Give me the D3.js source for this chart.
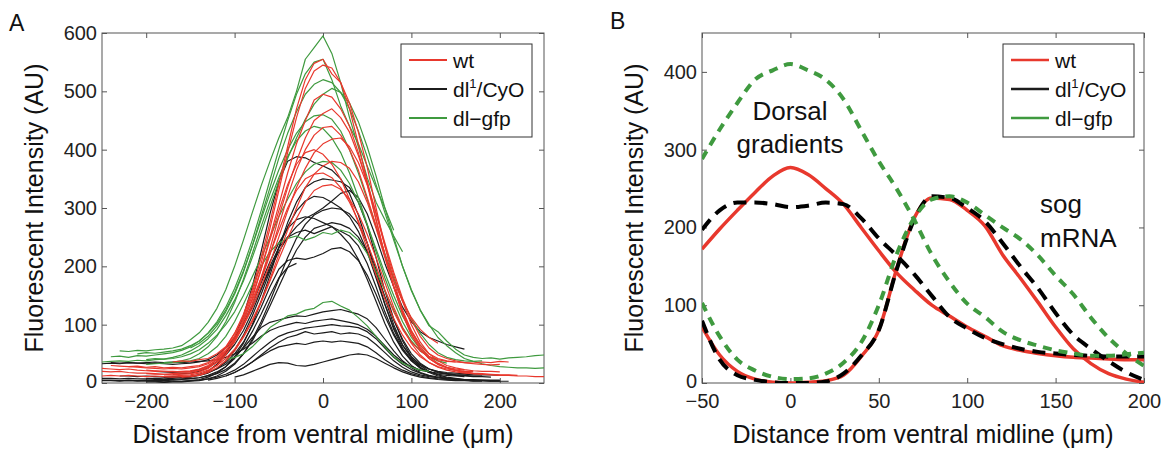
<!DOCTYPE html>
<html>
<head>
<meta charset="utf-8">
<script src="https://cdn.jsdelivr.net/npm/d3@7"></script>
<style>
  body { margin: 0; background: #fff; }
  svg { display: block; font-family: "Liberation Sans", Arial, sans-serif; }
</style>
</head>
<body>
<svg id="fig" width="1168" height="450"></svg>
<script>
/* DATA */
// panel A: individual embryo profiles, sampled every 10 um from a start position
const stepA = 10;

const wtStart = [-250, -170, -250, -200, -250, -220, -200, -180, -240, -160];
const wtY = [
  [20,19,20,18,17,17,16,15,16,17, 18,22,28,40,60,85,118,160,215,275, 340,405,470,520,548,555,530,515,470,410, 345,280,218,165,120,84,58,42,32,26, 21,18,16,15,14,13,13,12,12,11,11],
  [36,38,37,40,42,50,62,85,115,155, 205,265,330,395,455,505,535,545,540,515, 480,430,370,300,235,175,125,90,65,50, 42,38,36,35,34,36,35,37,36],
  [12,13,12,13,12,11,12,11,10,11, 12,14,20,30,48,72,105,145,195,250, 305,360,410,450,485,495,490,470,440,395, 340,280,220,165,118,82,58,42,32,27, 24,22],
  [22,21,20,20,19,20,22,27,35,50, 70,98,135,180,230,285,335,380,420,450, 462,470,455,430,390,345,290,235,185,140, 100,70,50,38,30,26,23,21,20,20, 19],
  [25,24,23,24,22,21,20,20,19,20, 21,24,30,40,55,75,100,135,175,220, 270,320,365,400,425,438,440,425,400,365, 318,270,220,175,140,112,92,78,68],
  [28,27,26,25,24,25,24,26,28,33, 42,55,74,98,128,165,205,250,295,335, 368,395,410,418,420,405,378,340,292,240, 190,145,108,80,60,48,42,38,35,33, 32,31,32],
  [16,15,15,14,15,16,19,25,36,54, 78,110,150,195,245,295,340,375,395,400, 392,375,350,315,275,230,185,145,110,82, 60,45,35,28,24,22,20,20],
  [12,12,13,14,17,22,30,42,58,80, 108,140,178,220,262,300,335,358,372,380, 378,368,345,310,265,215,165,122,88,62, 45,34,27,22,19,17,16,15,14,14, 13],
  [30,29,28,29,27,28,26,27,26,28, 30,35,45,60,80,108,142,180,222,262, 300,330,350,358,360,352,335,310,278,240, 200,160,122,92,70,55,45,40,37,36],
  [10,11,13,18,26,38,55,78,105,138, 175,212,248,282,310,330,338,340,332,315, 290,255,215,172,130,95,68,48,35,27, 22,19,17,16,15]
];

const dlStart = [-200, -250, -240, -230, -200, -170, -250, -190, -250, -180, -140, -250, -170, -110, -100, -130];
const dlY = [
  [8,8,7,8,9,10,14,20,32,50, 78,115,165,225,290,345,380,388,386,378, 372,365,350,325,288,240,185,135,92,60, 38,25,18],
  [4,4,3,4,3,3,3,2,3,3, 4,6,10,17,28,45,68,100,140,185, 232,275,310,335,345,350,348,345,335,310, 270,215,158,110,72,45,30,20,14,10, 8,6,5,5,4,4],
  [35,34,35,34,33,34,33,32,33,34, 36,40,48,60,78,102,130,162,195,225, 250,268,282,290,300,312,325,330,318,290, 250,205,165,130,105,88,78,72,66,62, 58],
  [12,12,11,12,11,10,11,10,11,13, 17,25,38,56,82,115,152,192,232,268, 295,312,320,318,310,300,285,260,225,180, 135,95,65,45,32,24,19,16,14,13, 12,12],
  [2,2,1,2,2,3,4,7,12,20, 32,50,75,105,140,178,215,248,272,288, 296,300,298,290,272,240,195,145,100,65, 42,27,18,12,9,7,5,4,4,3, 3],
  [15,16,17,20,26,36,52,74,102,135, 172,208,240,265,280,285,282,275,268,255, 238,212,178,140,102,70,46,30,20],
  [8,8,7,8,7,7,6,6,6,7, 8,9,12,16,23,34,50,72,100,132, 165,198,228,250,265,270,275,272,265,250, 225,190,148,108,75,50,34,24,18,15, 13,12,11,11,10],
  [20,19,18,19,20,23,28,36,48,66, 90,122,160,200,232,250,258,262,256,262, 268,260,252,235,205,165,122,85,58,40, 30,24,20,18,17,16,16],
  [5,5,4,5,4,5,4,4,5,6, 7,9,13,19,28,42,62,88,118,150, 180,198,205],
  [10,10,11,12,14,18,25,35,50,70, 98,130,165,195,210,214,212,216,222,230, 232,225,210,185,152,115,82,56,38,26, 19,15,13,12,11],
  [15,18,24,32,45,60,78,95,104,108, 112,115,114,118,122,124,126,122,118,110, 95,75,55,38,26,18,13,10,8,7],
  [33,34,33,35,34,35,36,35,36,35, 36,37,38,40,44,50,58,68,80,90, 96,100,104,102,106,108,110,107,104,100, 92,80,64,48,36,28,22,19,17,16, 15,15,14,14,14,13],
  [3,3,4,5,7,10,15,22,32,45, 58,70,80,86,90,94,96,98,100,98, 97,95,88,76,60,44,32,23,17,12, 9,7,6,5,4,4,3,3,3],
  [12,18,26,36,48,60,70,78,82,88, 84,86,88,84,86,84,78,66,52,38, 27,19,14,11,9,8,7,6,6,5, 5,5],
  [10,14,20,26,32,35,34,30,29,32, 36,40,44,48,50,48,42,34,26,19, 14,10,8,6,5,4,4,3,3],
  [5,8,12,18,26,36,46,55,62,65, 68,66,70,72,70,72,70,68,62,52, 40,30,22,16,12,9,7,6,5,5, 4,4,4]
];

const gfpStart = [-230, -240, -150, -200, -210, -180, -200, -110, -250];
const gfpY = [
  [55,54,56,55,57,58,60,64,74,86, 104,128,160,200,245,292,338,380,420,455, 500,555,575,595,565,515,455,405,352,310, 280,252,225],
  [45,46,44,47,46,48,50,52,56,62, 72,86,105,130,162,200,245,295,348,400, 450,495,530,550,555,520,475,440,410,372, 335,300,262],
  [60,68,80,98,122,152,190,235,285,335, 385,428,465,495,512,520,515,498,470,432, 388,340,292,245,200,160,125,98,88,72, 58,48,44,42,43,41,43,44,45,47, 48],
  [40,42,41,44,48,55,64,76,92,115, 142,175,215,258,302,345,385,420,452,478, 495,505,498,480,448, 405,355,300,250,200,158,125,100,78,64, 52,42,37,33,30,28,27,26,26,25, 26],
  [50,52,51,53,55,58,64,72,85,102, 125,155,192,235,280,325,365,400,428,448, 458,460,452,432,400,360,315,268,222,180, 142,110,85,66,52,44,40,38,37,38],
  [35,36,38,42,50,62,80,105,138,178, 222,268,312,352,388,415,432,440,436,420, 395,360,318,272,225,180,140,105,78,58, 45,38,34],
  [32,33,34,35,36,38,42,50,62,80, 105,135,168,200,225,240,248,252,245,250, 258,255,262,258,245,222,192,158,125,95, 72,55,45,40],
  [40,44,50,62,78,95,105,115,118,125, 128,138,140,132,125,112,98,80,62,45, 34,27,22,20],
  [36,37,38,37,39,38,40,41,42,45, 50,57,68,82,100,122,150,182,215,250, 285,315,342,362,375,380,378,365,342,310, 272,230,188,150,115,88,65,50]
];

// panel B: average gradients, every 10 um from -50 to 200
const distB = [-50,-40,-30,-20,-10,0,10,20,30,40,50,60,70,80,90,100,110,120,130,140,150,160,170,180,190,200];
const dorsalWt  = [172,198,222,245,266,277,268,250,230,200, 170,142,120,100,86,72,60,48,42,38, 35,33,32,31,30,30];
const dorsalDl  = [197,222,232,232,230,226,228,232,230,212, 186,164,140,112,85,70,58,50,44,40, 38,36,35,34,34,34];
const dorsalGfp = [288,326,360,390,402,410,402,390,365,325, 285,250,210,165,130,102,85,66,55,48, 42,38,35,35,37,39];
const sogWt  = [72,36,15,5,1,0,1,3,10,34, 68,146,212,238,236,222,202,165,135,104, 72,44,25,12,5,1];
const sogDl  = [80,30,10,4,1,0,0,2,12,35, 68,145,210,240,238,225,208,180,150,122, 90,62,44,28,14,4];
const sogGfp = [103,60,30,16,8,5,6,12,26,52, 100,165,212,236,240,232,216,200,185,164, 138,114,84,58,38,22];

const legendLabels = ["wt", "dl", "dl\u2212gfp"];
const ticksAx = [-200, -100, 0, 100, 200];
const ticksAy = [0, 100, 200, 300, 400, 500, 600];
const ticksBx = [-50, 0, 50, 100, 150, 200];
const ticksBy = [0, 100, 200, 300, 400];

/* SETUP */
const colors = { wt: "#e8382d", dl: "#1c1c1c", gfp: "#3f9a3f" };
const svg = d3.select("#fig");
svg.append("rect").attr("width", 1168).attr("height", 450).attr("fill", "#fff");

const xA = d3.scaleLinear().domain([-250, 250]).range([102, 544]);
const yA = d3.scaleLinear().domain([0, 600]).range([383, 33]);
const xB = d3.scaleLinear().domain([-50, 200]).range([702, 1144]);
const yB = d3.scaleLinear().domain([0, 450]).range([383, 33]);

function drawFrame(x, y, xt, yt, id) {
  const [x0, x1] = x.range();
  const [y0, y1] = y.range();
  const fmt = d3.format("d");

  svg.append("clipPath").attr("id", id)
    .append("rect").attr("x", x0).attr("y", y1).attr("width", x1 - x0).attr("height", y0 - y1);

  const axes = [
    svg.append("g").attr("transform", `translate(0,${y0})`)
      .call(d3.axisBottom(x).tickValues(xt).tickSizeInner(-5).tickSizeOuter(0).tickPadding(11).tickFormat(fmt)),
    svg.append("g").attr("class", "y-axis").attr("transform", `translate(${x0},0)`)
      .call(d3.axisLeft(y).tickValues(yt).tickSizeInner(-5).tickSizeOuter(0).tickPadding(5).tickFormat(fmt)),
    svg.append("g").attr("transform", `translate(0,${y1})`)
      .call(d3.axisTop(x).tickValues(xt).tickSizeInner(-5).tickSizeOuter(0).tickFormat("")),
    svg.append("g").attr("transform", `translate(${x1},0)`)
      .call(d3.axisRight(y).tickValues(yt).tickSizeInner(-5).tickSizeOuter(0).tickFormat(""))
  ];
  axes.forEach(a => {
    a.select(".domain").remove();
    a.selectAll("line").attr("stroke", "#555");
    a.selectAll("text").attr("font-size", 20).attr("fill", "#222")
      .attr("font-family", "'Liberation Sans', Arial, sans-serif");
  });
  // lift the zero label a touch so it clears the x tick labels
  axes[1].selectAll("text").filter(d => d === 0).attr("dy", "0.2em");

  svg.append("rect")
    .attr("x", x0).attr("y", y1).attr("width", x1 - x0).attr("height", y0 - y1)
    .attr("fill", "none").attr("stroke", "#555").attr("stroke-width", 1);

  // axis labels
  svg.append("text")
    .attr("x", (x0 + x1) / 2).attr("y", 443)
    .attr("text-anchor", "middle").attr("font-size", 25).attr("fill", "#111")
    .text("Distance from ventral midline (\u03bcm)");
  svg.append("text")
    .attr("transform", `translate(${x0 - 59},${(y0 + y1) / 2}) rotate(-90)`)
    .attr("text-anchor", "middle").attr("font-size", 25).attr("fill", "#111")
    .text("Fluorescent Intensity (AU)");
}

function drawLegend(left, top, lineWidth) {
  const g = svg.append("g");
  g.append("rect")
    .attr("x", left).attr("y", top).attr("width", 131).attr("height", 93)
    .attr("fill", "#fff").attr("stroke", "#333").attr("stroke-width", 1);
  const keys = ["wt", "dl", "gfp"];
  keys.forEach((k, i) => {
    const ly = top + 16 + i * 29;
    g.append("line")
      .attr("x1", left + 8).attr("x2", left + 46).attr("y1", ly).attr("y2", ly)
      .attr("stroke", colors[k]).attr("stroke-width", lineWidth);
    const t = g.append("text")
      .attr("x", left + 52).attr("y", ly + 8)
      .attr("font-size", 21).attr("fill", "#111")
      .text(legendLabels[i]);
    if (k === "dl") {
      t.append("tspan").attr("font-size", 13).attr("dy", -9).text("1");
      t.append("tspan").attr("dy", 9).text("/CyO");
    }
  });
}

/* PANEL A */
drawFrame(xA, yA, ticksAx, ticksAy, "clipA");

const lineA = d3.line()
  .x((d, i, arr) => xA(arr.start + i * stepA))
  .y(d => yA(d));

function drawProfiles(starts, values, color) {
  svg.append("g").attr("clip-path", "url(#clipA)")
    .selectAll("path")
    .data(values.map((v, i) => Object.assign(v.slice(), { start: starts[i] })))
    .join("path")
    .attr("d", d => lineA(d))
    .attr("fill", "none")
    .attr("stroke", color)
    .attr("stroke-width", 1.2)
    .attr("stroke-linejoin", "round");
}

drawProfiles(dlStart, dlY, colors.dl);
drawProfiles(gfpStart, gfpY, colors.gfp);
drawProfiles(wtStart, wtY, colors.wt);

drawLegend(401, 44, 2);

svg.append("text").attr("x", 9).attr("y", 31).attr("font-size", 23).attr("fill", "#111").text("A");

/* PANEL B */
drawFrame(xB, yB, ticksBx, ticksBy, "clipB");

const lineB = d3.line()
  .x((d, i) => xB(distB[i]))
  .y(d => yB(d))
  .curve(d3.curveMonotoneX);

const seriesB = [
  { vals: dorsalWt, color: colors.wt, dash: null },
  { vals: sogWt, color: colors.wt, dash: null },
  { vals: dorsalDl, color: "#000", dash: "13,8" },
  { vals: sogDl, color: "#000", dash: "13,8" },
  { vals: dorsalGfp, color: colors.gfp, dash: "9,7" },
  { vals: sogGfp, color: colors.gfp, dash: "9,7" }
];

svg.append("g").attr("clip-path", "url(#clipB)")
  .selectAll("path")
  .data(seriesB)
  .join("path")
  .attr("d", d => lineB(d.vals))
  .attr("fill", "none")
  .attr("stroke", d => d.color)
  .attr("stroke-width", d => d.dash ? 4 : 3.5)
  .attr("stroke-dasharray", d => d.dash);

drawLegend(1003, 44, 2.5);

svg.append("text").attr("x", 610).attr("y", 29).attr("font-size", 23).attr("fill", "#111").text("B");

// annotations
svg.append("text").attr("x", 790).attr("y", 120).attr("text-anchor", "middle")
  .attr("font-size", 26).attr("fill", "#111").text("Dorsal");
svg.append("text").attr("x", 790).attr("y", 153).attr("text-anchor", "middle")
  .attr("font-size", 26).attr("fill", "#111").text("gradients");
svg.append("text").attr("x", 1040).attr("y", 213)
  .attr("font-size", 26).attr("fill", "#111").text("sog");
svg.append("text").attr("x", 1040).attr("y", 247)
  .attr("font-size", 26).attr("fill", "#111").text("mRNA");
</script>
</body>
</html>
